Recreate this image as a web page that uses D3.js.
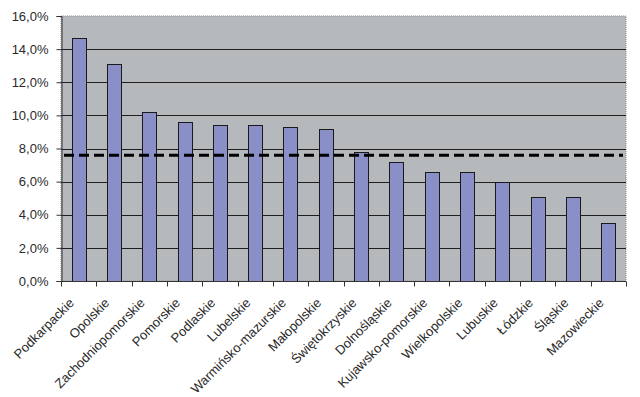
<!DOCTYPE html>
<html>
<head>
<meta charset="utf-8">
<script src="https://cdn.jsdelivr.net/npm/d3@7"></script>
<style>
  body { margin: 0; background: #fff; }
  text { font-family: "Liberation Sans", Arial, sans-serif; }
</style>
</head>
<body>
<div class="container"></div>
<script>
// chart size and margins (plot area)
const width = 640;
const height = 397;
const margin = { top: 16, right: 14, bottom: 116, left: 61 };

// regions and their values (percent)
const regions = ["Podkarpackie", "Opolskie", "Zachodniopomorskie", "Pomorskie", "Podlaskie",
  "Lubelskie", "Warmińsko-mazurskie", "Małopolskie", "Świętokrzyskie", "Dolnośląskie",
  "Kujawsko-pomorskie", "Wielkopolskie", "Lubuskie", "Łódzkie", "Śląskie", "Mazowieckie"];
const values = [14.7, 13.1, 10.2, 9.6, 9.4, 9.4, 9.3, 9.2, 7.8, 7.2, 6.6, 6.6, 6.0, 5.1, 5.1, 3.5];
// country average (dashed line)
const average = [7.6];
const yTicks = [0, 2, 4, 6, 8, 10, 12, 14, 16];

const svg = d3.select(".container")
  .append("svg")
  .attr("width", width)
  .attr("height", height);

const xScale = d3.scaleBand()
  .domain(regions)
  .range([margin.left, width - margin.right])
  .paddingInner(0.6)
  .paddingOuter(0.3);

const yScale = d3.scaleLinear()
  .domain([0, 16])
  .range([height - margin.bottom, margin.top]);

const fmt = d => d.toFixed(1).replace(".", ",") + "%";

// gray plot background
svg.append("rect")
  .attr("x", margin.left)
  .attr("y", margin.top)
  .attr("width", width - margin.right - margin.left)
  .attr("height", height - margin.bottom - margin.top)
  .attr("fill", "#b5b9bc")
  .attr("stroke", "#8c8c8c")
  .attr("stroke-dasharray", "1,1");

// horizontal grid lines
svg.append("g")
  .selectAll("line")
  .data(yTicks.slice(1, -1))
  .join("line")
  .attr("x1", margin.left)
  .attr("x2", width - margin.right)
  .attr("y1", d => Math.round(yScale(d)) + 0.5)
  .attr("y2", d => Math.round(yScale(d)) + 0.5)
  .attr("stroke", "#1e1e1e");

// bars
svg.append("g")
  .selectAll("rect")
  .data(values)
  .join("rect")
  .attr("x", (d, i) => Math.round(xScale(regions[i])) + 0.5)
  .attr("y", d => Math.round(yScale(d)) + 0.5)
  .attr("width", Math.round(xScale.bandwidth()))
  .attr("height", d => Math.round(yScale(0)) - Math.round(yScale(d)))
  .attr("fill", "#8b8fc7")
  .attr("stroke", "#1a1a1a");

// average dashed line
svg.append("g")
  .selectAll("line")
  .data(average)
  .join("line")
  .attr("x1", margin.left + 3)
  .attr("x2", width - margin.right - 3)
  .attr("y1", d => yScale(d))
  .attr("y2", d => yScale(d))
  .attr("stroke", "#000")
  .attr("stroke-width", 3)
  .attr("stroke-dasharray", "10,5");

// y axis
const yAxis = svg.append("g")
  .attr("transform", `translate(${margin.left + 0.5}, 0)`)
  .call(d3.axisLeft(yScale).tickValues(yTicks).tickFormat(fmt).tickSize(5).tickPadding(8))
  .attr("font-size", "13px");
yAxis.selectAll("line, path").attr("stroke", "#333");
yAxis.selectAll("text").attr("fill", "#2a2a2a");

// x axis: ticks between categories
const x0 = Math.round(yScale(0)) + 0.5;
svg.append("line")
  .attr("x1", margin.left)
  .attr("x2", width - margin.right)
  .attr("y1", x0)
  .attr("y2", x0)
  .attr("stroke", "#333");
svg.append("g")
  .selectAll("line")
  .data(d3.range(regions.length + 1))
  .join("line")
  .attr("x1", i => Math.round(margin.left + i * xScale.step()) + 0.5)
  .attr("x2", i => Math.round(margin.left + i * xScale.step()) + 0.5)
  .attr("y1", x0)
  .attr("y2", x0 + 5)
  .attr("stroke", "#333");

// rotated region labels
svg.append("g")
  .selectAll("text")
  .data(regions)
  .join("text")
  .attr("transform", d => `translate(${xScale(d) + xScale.bandwidth() / 2 - 7}, ${x0 + 19}) rotate(-45)`)
  .attr("text-anchor", "end")
  .attr("dy", "0.35em")
  .attr("font-size", "13px")
  .attr("fill", "#2a2a2a")
  .text(d => d);
</script>
</body>
</html>
